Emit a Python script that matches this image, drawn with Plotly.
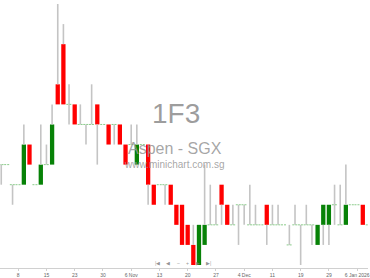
import plotly.graph_objects as go

# ---- data (prices in SGD) ----
dates = ["2025-10-03","2025-10-06","2025-10-07","2025-10-08","2025-10-09","2025-10-10",
         "2025-10-13","2025-10-14","2025-10-15","2025-10-16","2025-10-17","2025-10-21",
         "2025-10-22","2025-10-23","2025-10-24","2025-10-27","2025-10-28","2025-10-29",
         "2025-10-30","2025-10-31","2025-11-03","2025-11-04","2025-11-05","2025-11-06",
         "2025-11-07","2025-11-10","2025-11-11","2025-11-12","2025-11-13","2025-11-14",
         "2025-11-17","2025-11-18","2025-11-19","2025-11-20","2025-11-21","2025-11-24",
         "2025-11-25","2025-11-26","2025-11-27","2025-11-28","2025-12-01","2025-12-02",
         "2025-12-03","2025-12-04","2025-12-05","2025-12-08","2025-12-09","2025-12-10",
         "2025-12-11","2025-12-12","2025-12-15","2025-12-17","2025-12-18","2025-12-19",
         "2025-12-22","2025-12-23","2025-12-24","2025-12-26","2025-12-29","2025-12-30",
         "2025-12-31","2026-01-02","2026-01-05","2026-01-06","2026-01-07","2026-01-08"]

open_ = [0.023,0.023,0.022,0.022,0.022,0.024,0.022,0.022,0.023,0.023,0.027,0.029,
         0.026,0.026,0.025,0.025,0.025,0.026,0.025,0.025,0.025,0.025,0.024,0.024,
         0.023,0.024,0.024,0.022,0.022,0.022,0.022,0.021,0.021,0.020,0.019,0.018,
         0.019,0.020,0.020,0.022,0.021,0.020,0.021,0.021,0.020,0.020,0.020,0.021,
         0.020,0.020,0.020,0.019,0.020,0.020,0.020,0.020,0.019,0.020,0.020,0.021,
         0.020,0.020,0.021,0.021,0.021,0.020]
high = [0.023,0.023,0.022,0.022,0.025,0.024,0.022,0.025,0.024,0.026,0.031,0.030,
        0.027,0.026,0.026,0.025,0.027,0.026,0.025,0.025,0.025,0.025,0.024,0.025,
        0.025,0.024,0.024,0.022,0.022,0.022,0.022,0.021,0.021,0.020,0.020,0.020,
        0.023,0.022,0.021,0.022,0.021,0.021,0.021,0.021,0.022,0.021,0.020,0.021,
        0.021,0.021,0.020,0.020,0.021,0.020,0.021,0.020,0.020,0.021,0.021,0.022,
        0.022,0.023,0.021,0.021,0.021,0.020]
low = [0.022,0.023,0.021,0.022,0.022,0.023,0.022,0.022,0.023,0.023,0.026,0.026,
       0.025,0.025,0.025,0.024,0.025,0.023,0.025,0.024,0.024,0.024,0.023,0.024,
       0.023,0.024,0.021,0.021,0.022,0.021,0.021,0.020,0.019,0.019,0.018,0.018,
       0.019,0.020,0.020,0.020,0.020,0.020,0.019,0.020,0.020,0.020,0.020,0.019,
       0.020,0.020,0.020,0.019,0.020,0.018,0.020,0.019,0.019,0.019,0.019,0.020,
       0.020,0.020,0.021,0.021,0.020,0.020]
close = [0.023,0.023,0.022,0.022,0.024,0.023,0.022,0.023,0.023,0.025,0.026,0.026,
         0.026,0.025,0.025,0.025,0.025,0.025,0.025,0.024,0.025,0.024,0.023,0.024,
         0.024,0.024,0.022,0.021,0.022,0.022,0.021,0.020,0.019,0.019,0.018,0.020,
         0.020,0.020,0.020,0.021,0.020,0.020,0.021,0.021,0.020,0.020,0.020,0.020,
         0.020,0.020,0.020,0.019,0.020,0.020,0.020,0.020,0.020,0.021,0.021,0.021,
         0.020,0.021,0.021,0.021,0.020,0.020]

tick_dates = ["2025-10-08","2025-10-15","2025-10-23","2025-10-30","2025-11-06","2025-11-13",
              "2025-11-20","2025-11-27","2025-12-04","2025-12-11","2025-12-19","2025-12-29",
              "2026-01-06"]
tick_text = ["8","15","23","30","6 Nov","13","20","27","4 Dec","11","19","29","6 Jan 2026"]

# ---- build figure ----
xs = list(range(len(dates)))
W = 0.76

fig = go.Figure()

# wicks (only the parts outside the body, so bodies stay solid)
wx, wy = [], []
for i, (o, h, l, c) in enumerate(zip(open_, high, low, close)):
    top, bot = max(o, c), min(o, c)
    if h > top:
        wx += [i, i, None]
        wy += [top, h, None]
    if l < bot:
        wx += [i, i, None]
        wy += [l, bot, None]
fig.add_trace(go.Scatter(x=wx, y=wy, mode="lines",
                         line=dict(color="#c4c4c4", width=1.6),
                         hoverinfo="skip", showlegend=False))

# bodies
up_x, up_b, up_h, dn_x, dn_b, dn_h = [], [], [], [], [], []
for i, (o, c) in enumerate(zip(open_, close)):
    if c > o:
        up_x.append(i); up_b.append(o); up_h.append(c - o)
    elif c < o:
        dn_x.append(i); dn_b.append(c); dn_h.append(o - c)
fig.add_trace(go.Bar(x=up_x, y=up_h, base=up_b, width=W,
                     marker=dict(color="#078207", line=dict(width=0)),
                     showlegend=False))
fig.add_trace(go.Bar(x=dn_x, y=dn_h, base=dn_b, width=W,
                     marker=dict(color="#ff0000", line=dict(width=0)),
                     showlegend=False))

# doji (open == close) dashes
dx, dy = [], []
for i, (o, c) in enumerate(zip(open_, close)):
    if o == c:
        dx += [i - 0.48, i + 0.48, None]
        dy += [o, o, None]
fig.add_trace(go.Scatter(x=dx, y=dy, mode="lines",
                         line=dict(color="#8ccc8c", width=1, dash="2px,1px"),
                         hoverinfo="skip", showlegend=False))

tickvals = [dates.index(d) for d in tick_dates]

fig.update_layout(
    width=370, height=278,
    margin=dict(l=0, r=0, t=0, b=9),
    paper_bgcolor="white", plot_bgcolor="white",
    barmode="overlay",
    showlegend=False,
    xaxis=dict(range=[-0.222, 64.92], tickvals=tickvals, ticktext=tick_text,
               showgrid=False, zeroline=False, showline=True, linecolor="#d0d0d0",
               linewidth=1, ticks="outside", ticklen=2, tickcolor="#d0d0d0",
               ticklabeloverflow="allow",
               tickfont=dict(size=5, color="#666", family="Liberation Sans")),
    yaxis=dict(range=[0.01785, 0.0312], showgrid=False, zeroline=False,
               showticklabels=False, showline=False),
)

def ann(text, x, y, size, color):
    fig.add_annotation(text=text, x=x / 370, y=1 - y / 269, xref="paper", yref="paper",
                       showarrow=False, xanchor="center", yanchor="middle",
                       font=dict(size=size, color=color, family="Liberation Sans"))

ann("1F3", 177, 114, 28, "rgba(140,140,140,0.85)")
ann("Aspen - SGX", 176, 149, 16, "rgba(150,150,150,0.85)")
ann("www.minichart.com.sg", 175, 165, 10, "rgba(150,150,150,0.85)")

for sym, x in zip(["|◀", "◀", "–", "+", "▶", "▶|"], [158, 168.5, 179, 189, 199, 209.5]):
    ann(sym, x, 264, 5, "rgba(120,120,120,0.8)")

fig.write_html("out.html")
